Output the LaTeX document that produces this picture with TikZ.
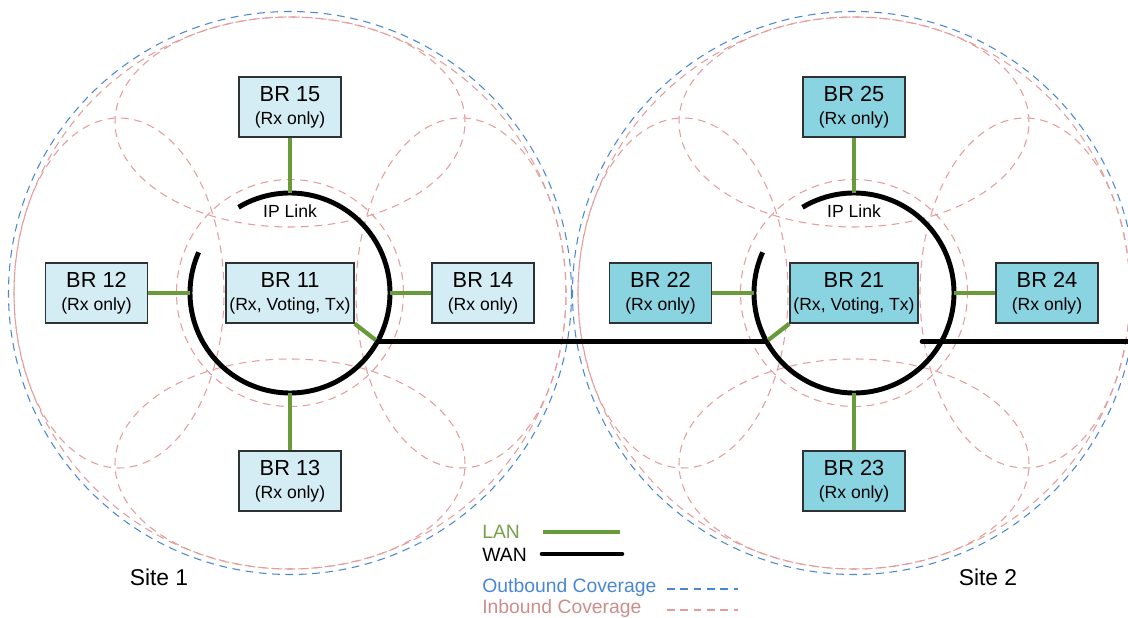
\documentclass[tikz,border=0pt]{standalone}
\usepackage{fontspec}
\setmainfont{Liberation Sans}
\usepackage{xcolor}
\usepackage{tikz}

\definecolor{lanGreen}{RGB}{106,155,58}
\definecolor{lanText}{RGB}{120,160,72}
\definecolor{outBlue}{RGB}{74,134,214}
\definecolor{inPink}{RGB}{228,156,156}
\definecolor{brLight}{RGB}{212,237,244}
\definecolor{brDark}{RGB}{138,212,226}
\definecolor{brEdge}{RGB}{45,50,52}

\tikzset{
  brbox/.style={draw=brEdge, line width=0.8pt, minimum width=2.04cm,
    minimum height=1.2cm, align=center, inner sep=1pt,
    font=\fontsize{12.4}{13.2}\selectfont},
  outcov/.style={outBlue, line width=0.6pt, dash pattern=on 4.4pt off 3.2pt},
  incov/.style={inPink, line width=0.6pt, dash pattern=on 4.4pt off 3.2pt},
  lan/.style={lanGreen, line width=2.4pt},
  wan/.style={black, line width=2.6pt, line cap=round},
  ipring/.style={black, line width=2.8pt},
  legtext/.style={anchor=base west, inner sep=0pt, font=\fontsize{11}{13}\selectfont},
}
\newcommand{\brsub}[1]{\\\fontsize{10}{13.2}\selectfont #1}

\begin{document}
\begin{tikzpicture}
  \useasboundingbox (-5.8,-6.5) rectangle (16.76,5.86);
  \foreach \s/\n/\f/\w/\c in {0/1/brLight/-29/south east, 11.28/2/brDark/209/south west} {
    \begin{scope}[xshift=\s cm]
      % coverage
      \draw[outcov] (0,0) circle (5.63);
      \draw[incov] (0,0) circle (5.52);
      \draw[incov] (0,0) circle (2.27);
      \draw[incov] (0,3.42) ellipse (3.5 and 2.1);
      \draw[incov] (0,-3.42) ellipse (3.5 and 2.1);
      \draw[incov] (-3.42,0) ellipse (2.1 and 3.5);
      \draw[incov] (3.42,0) ellipse (2.1 and 3.5);
      % ip link
      \draw[ipring] (121:2) arc (121:-204:2);
      \node[font=\fontsize{10}{12}\selectfont] (ip\n) at (0,1.64) {IP Link};
      \coordinate (ipn\n) at (90:2);
      \coordinate (ips\n) at (270:2);
      \coordinate (ipw\n) at (180:2);
      \coordinate (ipe\n) at (0:2);
      \coordinate (wj\n) at (\w:2);
      % receivers
      \node[brbox, fill=\f, minimum width=2.56cm] (br\n1) at (0,0)
        {BR \n1\brsub{(Rx, Voting, Tx)}};
      \node[brbox, fill=\f] (br\n2) at (-3.87,0) {BR \n2\brsub{(Rx only)}};
      \node[brbox, fill=\f] (br\n3) at (0,-3.76) {BR \n3\brsub{(Rx only)}};
      \node[brbox, fill=\f] (br\n4) at (3.86,0) {BR \n4\brsub{(Rx only)}};
      \node[brbox, fill=\f] (br\n5) at (0,3.72) {BR \n5\brsub{(Rx only)}};
      \draw[lan] (br\n5) -- (ipn\n);
      \draw[lan] (br\n2) -- (ipw\n);
      \draw[lan] (br\n4) -- (ipe\n);
      \draw[lan] (br\n3) -- (ips\n);
      \draw[lan] (br\n1.\c) -- (wj\n);
    \end{scope}
  }
  % wan
  \coordinate (wanin) at (12.64,-0.97);
  \coordinate (wanout) at (16.95,-0.97);
  \draw[wan] (wj1) -- (wj2);
  \draw[wan] (wanin) -- (wanout);
  \node[anchor=base, font=\fontsize{13}{15}\selectfont] (site1) at (-2.62,-5.86) {Site 1};
  \node[anchor=base, font=\fontsize{13}{15}\selectfont] (site2) at (13.96,-5.86) {Site 2};
  % legend
  \node[legtext, text=lanText] (lglan) at (3.84,-4.92) {LAN};
  \node[legtext] (lgwan) at (3.84,-5.38) {WAN};
  \node[legtext, text=outBlue] (lgout) at (3.84,-6.0) {Outbound Coverage};
  \node[legtext, text=inPink!90!black] (lgin) at (3.84,-6.41) {Inbound Coverage};
  \coordinate (lanA) at (5.06,-4.78);
  \coordinate (lanB) at (6.6,-4.78);
  \coordinate (wanA) at (5.04,-5.22);
  \coordinate (wanB) at (6.64,-5.22);
  \coordinate (outA) at (7.54,-5.92);
  \coordinate (outB) at (8.96,-5.92);
  \coordinate (inA) at (7.54,-6.34);
  \coordinate (inB) at (8.96,-6.34);
  \draw[lan] (lanA) -- (lanB);
  \draw[wan] (wanA) -- (wanB);
  \draw[outcov] (outA) -- (outB);
  \draw[incov] (inA) -- (inB);
\end{tikzpicture}
\end{document}
